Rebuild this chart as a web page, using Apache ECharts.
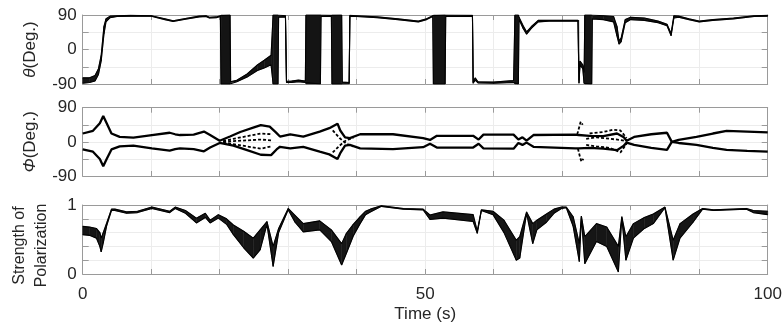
<!DOCTYPE html>
<html><head><meta charset="utf-8">
<script src="https://cdn.jsdelivr.net/npm/echarts@6/dist/echarts.min.js"></script>
<style>html,body{margin:0;padding:0;background:#fff}#c{width:784px;height:327px}</style>
</head><body><div id="c"></div>
<script>
// ---- Panel 1: theta envelope (Deg.) ----
const thetaT  = [0,1,1.8,2.3,2.7,3.1,3.4,4.0,5,7,10,12,13.2,15,17,18,18.5,19.5,20.1,20.2,21.5,21.6,22.5,24,25.5,26.5,27.5,27.8,28.5,28.6,29.6,29.75,30.5,31.5,32.5,32.6,34.7,34.8,36.3,36.4,37.8,37.9,38.9,39.0,40,43,46,49,50.2,51.1,51.2,52.9,53,56.9,57.0,57.3,57.7,60,62.9,63.1,63.6,63.7,64.3,64.8,65.5,66.5,68,72.3,72.4,72.45,72.6,73.0,73.2,73.3,74.3,74.4,76,77.5,78.0,78.3,78.6,79.2,80,82,84,85.3,85.9,86.3,87,88.5,90,92,95,98,100];
const thetaLo = [-88,-86,-82,-65,-30,40,72,83,86,87,87,78,73,79,85,86,82,83,86,-90,-90,-87,-84,-72,-55,-48,-40,-90,-90,84,85,-86,-86,-84,-86,-90,-90,86,86,-90,-90,-89,-89,86,86,83,78,72,78,86,-90,-90,86,86,-88,-80,-87,-88,-86,-90,-90,78,55,40,55,72,74,74,74,-88,-40,-50,-88,-90,-90,80,78,72,35,14,20,70,78,76,70,62,36,82,84,78,72,76,80,86,87];
const thetaHi = [-74,-74,-68,-50,-15,60,80,87,88,89,88,80,75,81,87,88,84,85,88,90,90,-84,-80,-64,-40,-28,-15,90,90,88,88,-83,-82,-80,-82,90,90,89,89,90,90,-85,-86,89,88,85,80,74,80,88,90,90,89,89,-85,-74,-84,-85,-81,90,90,84,62,46,60,76,76,76,76,-80,-30,-40,-60,90,90,88,88,86,60,22,30,78,84,82,74,66,42,88,87,80,74,78,82,88,89];

// ---- Panel 2: phi branches (Deg.) ----
const phiUpT = [0,1.5,2.5,3.0,3.5,4.2,5.4,7.4,10.1,12.7,13.5,14.2,16.2,17.7,18.6,20,21.5,23,25,26,27.3,28.2,28.8,30.3,32.2,34.6,36,37.2,37.6,38.3,39,40.5,45.3,49.7,50.7,51.7,57,57.8,58.5,62.9,63.6,64.2,64.8,65.8,71.9,72.4,74,76,78,79,79.4,80.5,83,85.3,86,87,89.6,92,94,97,100];
const phiUp  = [22,29,49,68,49,22,13,11,18,24,20,18,19,27,18,3,14,26,38,44,40,25,14,20,14,27,36,48,30,12,10,20,20,10,5,16,16,6,19,19,6,12,3,18,19,18,16,15,22,12,3,13,20,24,0,5,13,22,29,27,25];
const phiLoT = [0,1.5,2.5,3.0,3.5,4.2,5.4,7.4,10.1,12.7,13.5,14.2,16.2,17.7,18.6,20,22,24,26,27.5,28.3,28.8,30.3,32.2,34.6,36,37.2,37.6,38.3,39,40.5,45.3,49.7,50.7,51.7,57,57.8,58.5,62.9,63.6,64.2,64.8,65.8,71.9,72.4,74,76,78,79,79.4,80.5,83,85.3,86,87,89.6,92,94,97,100];
const phiLo  = [-20,-26,-45,-64,-45,-20,-12,-10,-17,-23,-19,-17,-19,-25,-15,-3,-10,-22,-34,-35,-20,-13,-17,-13,-26,-33,-45,-30,-10,-8,-17,-19,-14,-5,-15,-15,-5,-17,-18,-3,-8,-2,-13,-17,-17,-16,-18,-22,-10,-2,-8,-16,-21,0,-3,-8,-16,-21,-24,-26];
// scattered fragments
const fragA = [[20.5,2],[22,8],[24,15],[26,22],[27.5,20]];
const fragB = [[20.5,0],[22,2],[24,4],[26,6],[27.5,4]];
const fragC = [[20.5,-2],[22,-6],[24,-12],[26,-18],[27.5,-12]];
const fragD = [[36.5,30],[37.5,10],[38.5,-5],[39.5,-12]];
const fragE = [[36.5,-28],[37.5,-10],[38.5,5],[39.5,10]];
const fragF = [[72.2,20],[72.5,40],[72.7,53],[73.0,45]];
const fragG = [[72.3,-18],[72.6,-40],[72.8,-52],[73.1,-45]];
const fragH = [[73.5,8],[75,12],[77,8],[78.5,5],[79.4,2]];
const fragI = [[73.5,-8],[75,-12],[77,-16],[78.5,-28],[79.4,-5]];
const fragJ = [[74,22],[76,26],[77.5,32],[78.5,30],[79.4,10]];
const phiFrags = [fragA,fragB,fragC,fragD,fragE,fragF,fragG,fragH,fragI,fragJ];

// ---- Panel 3: strength of polarization envelope ----
const polT  = [0,1,2.0,2.5,2.7,3.0,3.5,4.2,4.7,6.4,8,10.1,12.7,13.5,15,16.6,17.9,18.6,19.8,21,22,23.5,24.9,25.9,26.9,27.8,28.6,30,31,32.2,34.6,36.3,37.8,38.5,39.5,40.5,41.3,42,43.6,46.8,49.7,50.7,52.6,57,57.6,58.2,59.9,61.5,63.3,63.8,64.8,65.7,66.3,67.7,68.8,69.9,70.6,71.6,72.5,72.8,73.3,75,76.5,78.2,78.7,79.3,80.4,82,83.3,85,86.2,87.2,89.1,90.5,92.1,96.9,97.9,100];
const polLo = [0.57,0.56,0.52,0.40,0.32,0.45,0.70,0.92,0.92,0.88,0.89,0.95,0.89,0.95,0.88,0.74,0.82,0.74,0.81,0.72,0.57,0.38,0.23,0.35,0.72,0.11,0.60,0.93,0.75,0.61,0.64,0.47,0.13,0.30,0.55,0.73,0.86,0.90,0.98,0.94,0.93,0.79,0.81,0.76,0.59,0.92,0.86,0.60,0.20,0.23,0.88,0.44,0.64,0.75,0.88,0.95,0.96,0.69,0.18,0.82,0.15,0.47,0.40,0.03,0.81,0.20,0.52,0.66,0.73,0.96,0.20,0.52,0.75,0.94,0.92,0.94,0.89,0.86];
const polHi = [0.69,0.68,0.66,0.60,0.52,0.60,0.74,0.94,0.94,0.90,0.91,0.97,0.91,0.97,0.92,0.81,0.88,0.78,0.86,0.80,0.71,0.62,0.52,0.64,0.76,0.40,0.66,0.95,0.85,0.73,0.77,0.64,0.44,0.59,0.72,0.83,0.91,0.94,0.99,0.95,0.94,0.855,0.90,0.86,0.62,0.93,0.91,0.78,0.49,0.54,0.90,0.73,0.78,0.87,0.94,0.97,0.97,0.83,0.44,0.84,0.54,0.73,0.68,0.40,0.83,0.54,0.73,0.82,0.87,0.97,0.49,0.73,0.87,0.95,0.93,0.95,0.92,0.91];

// ---- tick labels ----
const xTickLabels = [0, 50, 100];
const degTickLabels = [-90, 0, 90];
const polTickLabels = [0, 1];

const FONT = 'Liberation Sans, Arial, Helvetica, sans-serif';
const AX = '#9a9a9a', GRIDC = '#ececec', TXT = '#262626';

const grids = [
  {left: 82.7, right: 16.3, top: 15, height: 69, outerBoundsMode: 'none', containLabel: false},
  {left: 82.7, right: 16.3, top: 107.7, height: 68.3, outerBoundsMode: 'none', containLabel: false},
  {left: 82.7, right: 16.3, top: 205, height: 69, outerBoundsMode: 'none', containLabel: false}
];

const xAxes = [], yAxes = [];
for (let i = 0; i < 3; i++) {
  xAxes.push({
    type: 'value', gridIndex: i, position: 'bottom', min: 0, max: 100, interval: 10,
    axisLine: {show: true, onZero: false, lineStyle: {color: AX, width: 1}},
    axisTick: {show: true, inside: true, length: 5, lineStyle: {color: AX}},
    splitLine: {show: true, lineStyle: {color: GRIDC, width: 1}},
    axisLabel: {show: i === 2, margin: 12, fontSize: 17, fontFamily: FONT, color: TXT,
      formatter: v => xTickLabels.includes(v) ? String(v) : ''},
    name: i === 2 ? 'Time (s)' : '', nameLocation: 'middle', nameGap: 32,
    nameTextStyle: {fontSize: 17, fontFamily: FONT, color: TXT}
  });
  xAxes.push({
    type: 'value', gridIndex: i, position: 'top', min: 0, max: 100, interval: 10,
    axisLine: {show: true, onZero: false, lineStyle: {color: AX, width: 1}},
    axisTick: {show: true, inside: true, length: 5, lineStyle: {color: AX}},
    splitLine: {show: false}, axisLabel: {show: false}
  });
  const isPol = i === 2;
  const labels = isPol ? polTickLabels : degTickLabels;
  const yname = i === 0 ? '{i|θ}(Deg.)' : (i === 1 ? '{i|Φ}(Deg.)' : 'Strength of\nPolarization');
  yAxes.push({
    type: 'value', gridIndex: i, position: 'left',
    min: isPol ? 0 : -90, max: isPol ? 1 : 90, interval: isPol ? 0.2 : 45,
    axisLine: {show: true, onZero: false, lineStyle: {color: AX, width: 1}},
    axisTick: {show: true, inside: true, length: 6, lineStyle: {color: AX}},
    splitLine: {show: true, lineStyle: {color: GRIDC, width: 1}},
    axisLabel: {show: true, margin: 6, fontSize: 17, fontFamily: FONT, color: TXT,
      formatter: v => labels.some(l => Math.abs(l - v) < 1e-6) ? String(Math.round(v)) : ''},
    name: yname, nameLocation: 'middle', nameRotate: 90, nameGap: isPol ? 30 : 32,
    nameTextStyle: {fontSize: isPol ? 16 : 17, fontFamily: FONT, color: TXT, lineHeight: 22,
      padding: isPol ? [0, 12, 0, 0] : 0,
      rich: {i: {fontStyle: 'italic', fontSize: 17, fontFamily: FONT, color: TXT}}}
  });
  yAxes.push({
    type: 'value', gridIndex: i, position: 'right',
    min: isPol ? 0 : -90, max: isPol ? 1 : 90, interval: isPol ? 0.2 : 45,
    axisLine: {show: true, onZero: false, lineStyle: {color: AX, width: 1}},
    axisTick: {show: true, inside: true, length: 6, lineStyle: {color: AX}},
    splitLine: {show: false}, axisLabel: {show: false}
  });
}

const series = [];
function addBand(i, T, lo, hi, color) {
  const data = [];
  for (let k = 0; k < T.length - 1; k++) data.push([T[k], lo[k], hi[k], T[k+1], lo[k+1], hi[k+1]]);
  series.push({
    type: 'custom', xAxisIndex: 2*i, yAxisIndex: 2*i, data, silent: true, animation: false,
    encode: {x: [0, 3], y: [1, 2, 4, 5]},
    renderItem(params, api) {
      const p1 = api.coord([api.value(0), api.value(1)]);
      const p2 = api.coord([api.value(0), api.value(2)]);
      const p3 = api.coord([api.value(3), api.value(5)]);
      const p4 = api.coord([api.value(3), api.value(4)]);
      return {type: 'polygon', shape: {points: [p1, p2, p3, p4]},
        style: {fill: color, stroke: color, lineWidth: 0.5}};
    }
  });
  [lo, hi].forEach(arr => series.push({
    type: 'line', xAxisIndex: 2*i, yAxisIndex: 2*i, showSymbol: false, animation: false, silent: true,
    data: T.map((t, k) => [t, arr[k]]), lineStyle: {color: '#000', width: 1.1}
  }));
}
addBand(0, thetaT, thetaLo, thetaHi, '#141414');
addBand(2, polT, polLo, polHi, '#161616');

series.push({type: 'line', xAxisIndex: 2, yAxisIndex: 2, showSymbol: false, animation: false, silent: true,
  data: phiUpT.map((t, k) => [t, phiUp[k]]), lineStyle: {color: '#000', width: 2.3}});
series.push({type: 'line', xAxisIndex: 2, yAxisIndex: 2, showSymbol: false, animation: false, silent: true,
  data: phiLoT.map((t, k) => [t, phiLo[k]]), lineStyle: {color: '#000', width: 2.3}});
phiFrags.forEach(f => series.push({type: 'line', xAxisIndex: 2, yAxisIndex: 2, showSymbol: false,
  animation: false, silent: true, data: f, lineStyle: {color: '#000', width: 1.8, type: [3, 2]}}));

const chart = echarts.init(document.getElementById('c'), null, {renderer: 'canvas'});
chart.setOption({
  backgroundColor: '#fff', animation: false,
  grid: grids, xAxis: xAxes, yAxis: yAxes, series
});
</script>
</body></html>
